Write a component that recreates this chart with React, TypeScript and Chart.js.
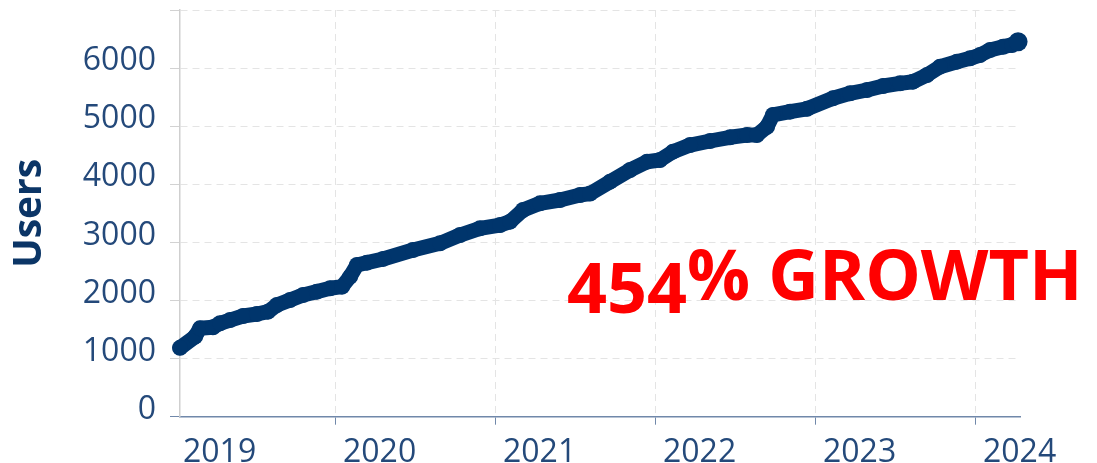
import React, { useEffect, useRef } from "react";
import { Chart, registerables } from "chart.js";

Chart.register(...registerables);

// Decimal year of each reading
const years = [
  2019.025, 2019.119, 2019.15, 2019.231, 2019.275, 2019.338, 2019.419, 2019.506,
  2019.575, 2019.631, 2019.713, 2019.794, 2019.881, 2019.963, 2020.038, 2020.088,
  2020.131, 2020.194, 2020.294, 2020.481, 2020.65, 2020.775, 2020.9, 2021.025,
  2021.088, 2021.169, 2021.275, 2021.4, 2021.525, 2021.588, 2021.713, 2021.838,
  2021.944, 2022.025, 2022.106, 2022.213, 2022.338, 2022.463, 2022.569, 2022.631,
  2022.694, 2022.731, 2022.838, 2022.944, 2023.106, 2023.213, 2023.319, 2023.419,
  2023.525, 2023.606, 2023.694, 2023.775, 2023.881, 2023.963, 2024.025, 2024.088,
  2024.169, 2024.225, 2024.263,
];

// Users at each reading
const users = [
  1185, 1377, 1521, 1539, 1608, 1664, 1733, 1768,
  1807, 1922, 2009, 2095, 2152, 2210, 2238, 2410,
  2611, 2651, 2715, 2869, 2984, 3127, 3243, 3299,
  3356, 3558, 3673, 3730, 3816, 3840, 4045, 4246,
  4389, 4418, 4561, 4676, 4745, 4809, 4848, 4848,
  4991, 5193, 5250, 5300, 5480, 5566, 5623, 5692,
  5738, 5766, 5881, 6024, 6110, 6168, 6225, 6311,
  6368, 6398, 6454,
];

const xTickValues = [2019, 2020, 2021, 2022, 2023, 2024];
const xTickLabels = ["2019", "2020", "2021", "2022", "2023", "2024"];
const yTickValues = [0, 1000, 2000, 3000, 4000, 5000, 6000, 7000];
const yTickLabels = ["0", "1000", "2000", "3000", "4000", "5000", "6000", ""];

const growthNumber = "454";
const growthText = "% GROWTH";

const NAVY = "#00356c";
const TICK_TEXT = "#24497a";
const AXIS_BLUE = "#7088aa";
const GRID = "#e4e4e4";

const growthPlugin = {
  id: "growthText",
  afterDraw(chart: any) {
    const ctx = chart.ctx;
    ctx.save();
    ctx.fillStyle = "#ff0000";
    ctx.font = "700 70px 'Open Sans'";
    ctx.textAlign = "left";
    ctx.textBaseline = "alphabetic";
    ctx.fillText(growthNumber, 567, 313);
    ctx.fillText(growthText, 687, 300);
    ctx.restore();
  },
};

export default function App() {
  const canvasRef = useRef<HTMLCanvasElement | null>(null);

  useEffect(() => {
    document.body.style.margin = "0";
    const canvas = canvasRef.current;
    if (!canvas) return;
    const data = years.map((x, i) => ({ x, y: users[i] }));
    const chart = new Chart(canvas, {
      type: "line",
      data: {
        datasets: [
          {
            data,
            borderColor: NAVY,
            backgroundColor: NAVY,
            borderWidth: 15,
            borderJoinStyle: "round",
            borderCapStyle: "round",
            pointRadius: (c: any) => (c.dataIndex === users.length - 1 ? 9.5 : 8),
            pointBorderWidth: 0,
            pointBackgroundColor: NAVY,
            tension: 0,
            clip: false as any,
          } as any,
        ],
      },
      options: {
        animation: false,
        responsive: true,
        maintainAspectRatio: false,
        layout: { padding: { top: 10, right: 77, left: 0, bottom: 0 } },
        plugins: { legend: { display: false }, tooltip: { enabled: false } },
        scales: {
          x: {
            type: "linear",
            min: 2019.025,
            max: 2024.275,
            afterBuildTicks: (scale: any) => {
              scale.ticks = xTickValues.map((value) => ({ value }));
            },
            afterFit: (scale: any) => {
              scale.height = 46.3;
              scale.paddingLeft = 0;
              scale.paddingRight = 0;
            },
            grid: {
              color: (c: any) => (c.index === 0 ? "rgba(0,0,0,0)" : GRID),
              tickColor: (c: any) => (c.index === 0 ? "rgba(0,0,0,0)" : AXIS_BLUE),
              tickLength: 8,
              lineWidth: 1,
            },
            border: { color: AXIS_BLUE, width: 1.5, dash: [7, 5] },
            ticks: {
              autoSkip: false,
              maxRotation: 0,
              align: "start",
              labelOffset: 7,
              padding: 9,
              color: TICK_TEXT,
              font: { family: "'Open Sans'", size: 32 },
              callback: (_v: any, i: number) => xTickLabels[i],
            },
          },
          y: {
            type: "linear",
            min: 0,
            max: 7000,
            afterBuildTicks: (scale: any) => {
              scale.ticks = yTickValues.map((value) => ({ value }));
            },
            afterFit: (scale: any) => {
              scale.width = 180;
              scale.paddingTop = 0;
              scale.paddingBottom = 0;
            },
            grid: {
              color: (c: any) => (c.tick && c.tick.value === 0 ? "rgba(0,0,0,0)" : GRID),
              tickColor: (c: any) => (c.tick && c.tick.value === 0 ? AXIS_BLUE : "#d2d2d2"),
              tickLength: 10,
            },
            border: { color: "#cfcfcf", width: 1.5, dash: [7, 5] },
            title: {
              display: true,
              text: "Users",
              color: "#0b3566",
              font: { family: "'Open Sans'", size: 39, weight: "bold" },
              padding: { top: 6, bottom: 0 },
            },
            ticks: {
              autoSkip: false,
              labelOffset: -7,
              padding: 14,
              color: TICK_TEXT,
              font: { family: "'Open Sans'", size: 32 },
              callback: (_v: any, i: number) => yTickLabels[i],
            },
          },
        },
      },
      plugins: [growthPlugin],
    });
    return () => chart.destroy();
  }, []);

  return (
    <div style={{ position: "relative", width: "1097px", height: "463px" }}>
      <canvas ref={canvasRef} />
    </div>
  );
}
